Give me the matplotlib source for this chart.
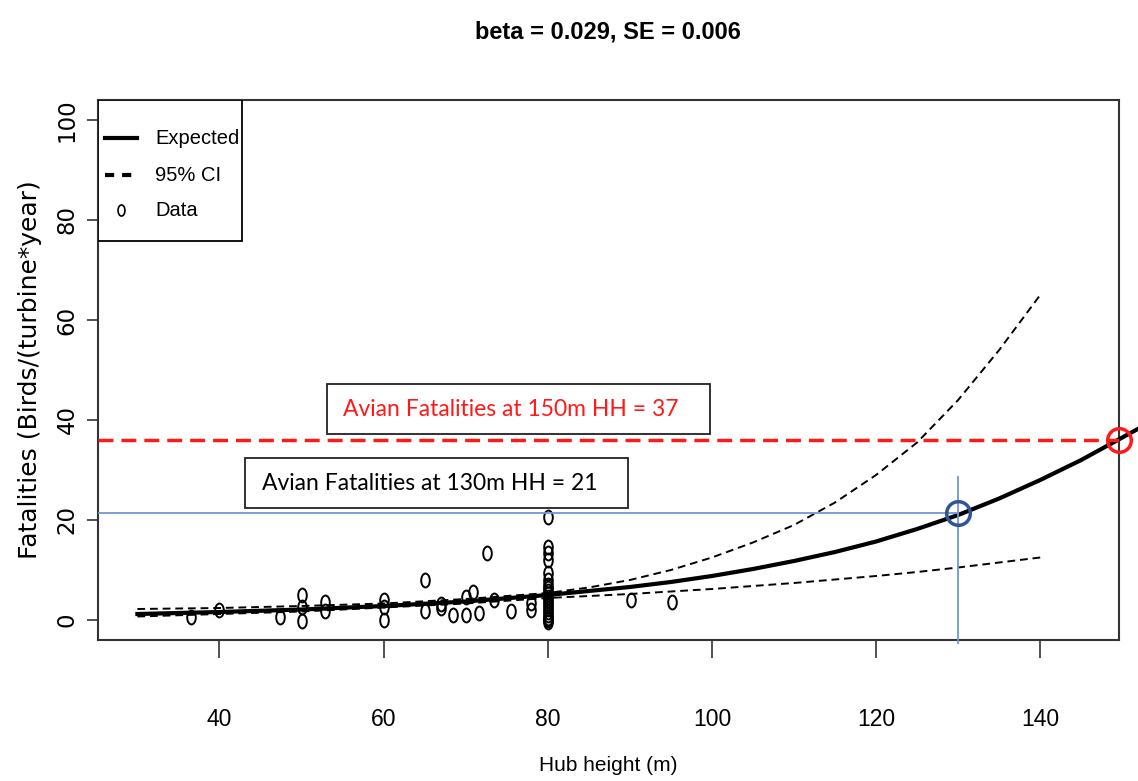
import numpy as np
import matplotlib
matplotlib.use("Agg")
import matplotlib.pyplot as plt
from matplotlib.path import Path
from matplotlib.transforms import Affine2D
from matplotlib.patches import Rectangle
from matplotlib.lines import Line2D

# expected curve and 95% CI
exp_x = [30, 40, 50, 60, 70, 80, 85, 90, 95, 100, 105, 110, 115, 120, 125, 130, 135, 140, 145, 150, 152]
exp_y = [1.2, 1.6, 2.1, 2.8, 3.7, 5.0, 5.8, 6.6, 7.6, 8.8, 10.2, 11.8, 13.6, 15.7, 18.2, 21.0, 24.3, 28.0, 32.0, 36.5, 38.3]
ci_x = [30, 40, 50, 60, 70, 80, 85, 90, 95, 100, 105, 110, 115, 120, 125, 130, 135, 140]
ci_hi = [2.2, 2.4, 2.8, 3.3, 4.2, 5.4, 6.5, 8.0, 10.0, 12.5, 15.5, 19.0, 23.5, 29.0, 35.5, 44.0, 54.0, 65.0]
ci_lo = [0.7, 1.2, 1.7, 2.5, 3.3, 4.4, 4.8, 5.2, 5.7, 6.2, 6.8, 7.4, 8.1, 8.8, 9.6, 10.5, 11.5, 12.5]

# observed turbines
data_x = [36.5, 40, 47.4, 50, 50, 50, 52.8, 52.8, 60, 60, 60, 65, 65, 67, 67,
          68.5, 70, 70, 70.9, 71.6, 72.6, 73.4, 75.5, 77.9, 77.9,
          80, 80, 80, 80, 80, 80, 80, 80, 80, 80, 80, 80, 80, 80, 80, 80, 80,
          80, 80, 80, 80, 90.1, 95.1]
data_y = [0.6, 2.0, 0.6, 5.0, 2.6, -0.2, 3.6, 1.8, 4.0, 2.6, 0.0, 8.0, 1.8, 3.2, 2.4,
          1.0, 1.0, 4.6, 5.6, 1.4, 13.4, 4.0, 1.8, 3.4, 2.0,
          20.6, 14.6, 13.4, 12.0, 9.4, 8.0, 7.0, 6.4, 5.8, 5.2, 4.6, 4.0, 3.4,
          2.8, 2.2, 1.6, 1.0, 0.5, 0.2, 0.0, -0.3, 4.0, 3.6]

hh130, fat130 = 130, 21.5
hh150, fat150 = 149.6, 36

plt.rcParams['font.family'] = ['Liberation Sans', 'DejaVu Sans']

fig = plt.figure(figsize=(11.38, 7.81), dpi=100)
ax = fig.add_axes([98/1138, 141/781, 1021/1138, 540/781])
ax.set_xlim(25.2, 149.6)
ax.set_ylim(-4, 104)

# R style open circle, squashed like in the picture
ell = Path.unit_circle().transformed(Affine2D().scale(0.62, 1.0))

ax.plot(ci_x, ci_hi, color='black', lw=1.4, ls=(0, (4, 2.5)))
ax.plot(ci_x, ci_lo, color='black', lw=1.4, ls=(0, (4, 2.5)))
ax.plot(exp_x, exp_y, color='black', lw=3, clip_on=False, zorder=3)
ax.plot(data_x, data_y, ls='none', marker=ell, ms=10, mfc='none', mec='black', mew=1.4)

# annotations
ax.axhline(fat150, color='#ff1a1a', lw=2.5, ls=(0, (4.3, 2.3)), zorder=4)
ax.plot([hh150], [fat150], marker='o', ms=17, mfc='none', mec='#ff1a1a', mew=2.5,
        clip_on=False, zorder=5)
ax.plot([25.2, hh130], [fat130, fat130], color='#7295d2', lw=1.3, zorder=4)
ax.plot([hh130, hh130], [28.6, -4.6], color='#7295d2', lw=1.3, clip_on=False, zorder=4)
ax.plot([hh130], [fat130], marker='o', ms=17, mfc='none', mec='#2f5597', mew=2.5, zorder=5)

ax.add_patch(Rectangle((53.05, 37.2), 46.7, 10.0, fill=True, fc='white', ec='#222222', lw=1.3, zorder=6))
ax.text(55.0, 42.2, 'Avian Fatalities at 150m HH = 37', color='#ff1a1a', fontsize=16.5,
        family='Lato', ha='left', va='center', zorder=7)
ax.add_patch(Rectangle((43.05, 22.4), 46.7, 10.0, fill=True, fc='white', ec='#222222', lw=1.3, zorder=6))
ax.text(45.24, 27.4, 'Avian Fatalities at 130m HH = 21', color='black', fontsize=16.5,
        family='Lato', ha='left', va='center', zorder=7)

# axes cosmetics, R base graphics look
for s in ax.spines.values():
    s.set_linewidth(1.5)
    s.set_color('#333333')
ax.set_xticks([40, 60, 80, 100, 120, 140])
ax.set_yticks([0, 20, 40, 60, 80, 100])
ax.tick_params(axis='x', length=13, width=1.2, color='#333333', pad=36, labelsize=16.5)
ax.tick_params(axis='y', length=8, width=1.2, color='#333333', pad=6, labelsize=16.5)
for t in ax.get_yticklabels():
    t.set_rotation(90)
    t.set_va('center')
    t.set_family('DejaVu Sans')
ax.set_xlabel('Hub height (m)', fontsize=15, labelpad=18)
ax.set_ylabel('Fatalities (Birds/(turbine*year)', fontsize=18, family='DejaVu Sans', labelpad=10)
fig.text(608/1138, 1 - 32/781, 'beta = 0.029, SE = 0.006', ha='center', va='center',
         fontsize=17, fontweight='bold')

# legend box drawn by hand so the paddings match R
tr = ax.transAxes
ax.add_patch(Rectangle((0, 0.739), 0.141, 0.261, transform=tr, fc='white', ec='black',
                       lw=1.3, zorder=8))
ax.add_line(Line2D([0.0069, 0.0382], [0.9296, 0.9296], transform=tr, color='black', lw=3, zorder=9))
ax.add_line(Line2D([0.0069, 0.0382], [0.861, 0.861], transform=tr, color='black', lw=3,
                   ls=(0, (2.2, 1.9)), zorder=9))
ax.add_line(Line2D([0.0225], [0.796], transform=tr, ls='none', marker=ell, ms=8, mfc='none',
                   mec='black', mew=1.2, zorder=9))
for yy, lab in zip([0.9296, 0.861, 0.796], ['Expected', '95% CI', 'Data']):
    ax.text(0.0558, yy, lab, transform=tr, fontsize=14.5, ha='left', va='center', zorder=9)

fig.savefig('out.png', dpi=100)
